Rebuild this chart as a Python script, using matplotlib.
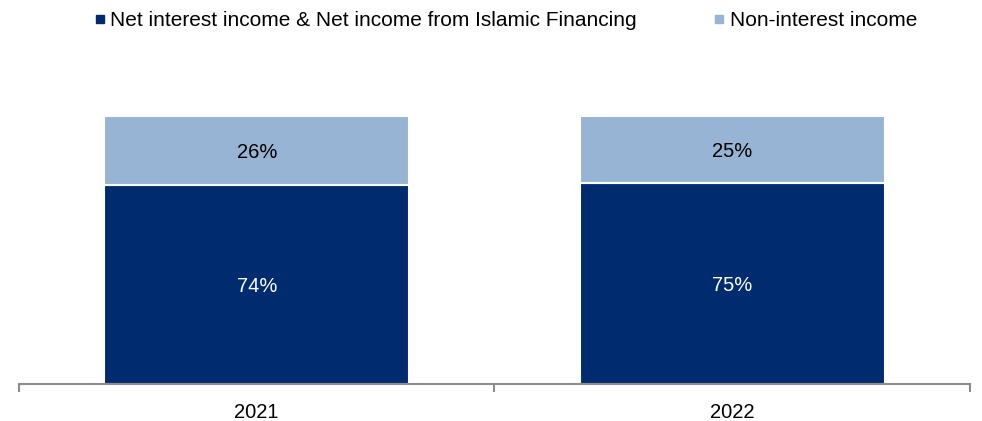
import matplotlib.pyplot as plt
from matplotlib.lines import Line2D

plt.rcParams['font.family'] = ['Liberation Sans', 'DejaVu Sans']

anos = ['2021', '2022']
juros = [74, 75]
nao_juros = [26, 25]
nomes = ['Net interest income & Net income from Islamic Financing', 'Non-interest income']
cores = ['#002B6F', '#98B4D4']

fig = plt.figure(figsize=(9.82, 4.21), dpi=100)
ax = fig.add_axes([0.0193, 0.089, 0.9685, 0.636])

x = [0.5, 1.5]
ax.bar(x, juros, width=0.642, color=cores[0], edgecolor='white', linewidth=1.5)
ax.bar(x, nao_juros, bottom=juros, width=0.642, color=cores[1], edgecolor='white', linewidth=1.5)

for xi, a, b in zip(x, juros, nao_juros):
    ax.text(xi, a / 2, f'{a}%', ha='center', va='center_baseline', color='white', fontsize=14.5)
    ax.text(xi, a + b / 2, f'{b}%', ha='center', va='center_baseline', color='black', fontsize=14.5)

ax.set_xlim(0, 2)
ax.set_ylim(0, 100)
ax.set_yticks([])
for lado in ['top', 'right', 'left']:
    ax.spines[lado].set_visible(False)
ax.spines['bottom'].set_color('#8C8C8C')
ax.spines['bottom'].set_linewidth(1.5)

ax.set_xticks([0, 1, 2])
ax.set_xticklabels([])
ax.tick_params(axis='x', which='major', length=6, width=1.5, color='#8C8C8C')
ax.set_xticks(x, minor=True)
ax.set_xticklabels(anos, minor=True, fontsize=14.5)
ax.tick_params(axis='x', which='minor', length=0, pad=14)

handles = [Line2D([], [], marker='s', linestyle='none', markersize=5.5, color=c) for c in cores]
fig.legend(handles, nomes, loc='upper center', bbox_to_anchor=(0.515, 1.0), ncol=2, frameon=False,
           fontsize=15, handlelength=0.5, handletextpad=0.25, columnspacing=3.7, borderaxespad=0.15)

fig.savefig('out.png', dpi=100)
